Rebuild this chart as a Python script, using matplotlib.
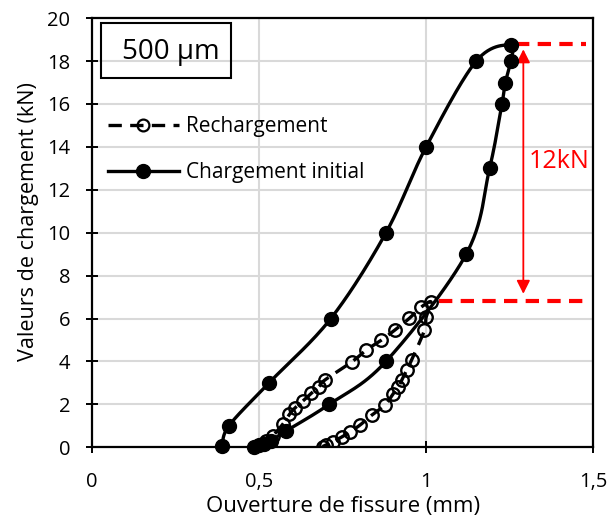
import numpy as np
import matplotlib
matplotlib.use("Agg")
import matplotlib.pyplot as plt
from matplotlib.patches import Rectangle
from matplotlib.ticker import FuncFormatter

plt.rcParams['font.family'] = ['Open Sans', 'DejaVu Sans']

# ---- data ----
init_x = [0.39, 0.41, 0.53, 0.715, 0.88, 1.0, 1.15, 1.253, 1.253, 1.237, 1.227,
          1.19, 1.12, 0.88, 0.71, 0.58, 0.535, 0.515, 0.50, 0.485]
init_y = [0.05, 1.0, 3.0, 6.0, 10.0, 14.0, 18.0, 18.75, 18.0, 17.0, 16.0,
          13.0, 9.0, 4.0, 2.0, 0.75, 0.3, 0.15, 0.08, 0.03]

rech_x = [0.496, 0.505, 0.521, 0.541, 0.571, 0.591, 0.609, 0.631, 0.656, 0.679,
          0.696, 0.779, 0.819, 0.866, 0.908, 0.950, 0.986, 1.015, 1.000, 0.995,
          0.957, 0.942, 0.927, 0.917, 0.902, 0.877, 0.837, 0.802, 0.772, 0.748,
          0.720, 0.700, 0.690]
rech_y = [0.02, 0.12, 0.29, 0.53, 1.07, 1.53, 1.85, 2.15, 2.51, 2.82,
          3.12, 3.99, 4.51, 4.99, 5.48, 6.01, 6.54, 6.77, 6.05, 5.45,
          4.08, 3.6, 3.12, 2.81, 2.5, 1.97, 1.49, 1.03, 0.71, 0.48,
          0.25, 0.1, 0.03]

x_ticks = [0, 0.5, 1.0, 1.5]
y_ticks = list(range(0, 21, 2))

peak_load = 18.8
reload_load = 6.8
delta_label = "12kN"
sample_label = "500 µm"


def smooth(x, y, n=24):
    P = np.column_stack([x, y]).astype(float)
    P = np.vstack([P[0], P, P[-1]])
    out = []
    t = np.linspace(0, 1, n)[:, None]
    for i in range(1, len(P) - 2):
        p0, p1, p2, p3 = P[i - 1], P[i], P[i + 1], P[i + 2]
        c1 = p1 + (p2 - p0) / 6.0
        c2 = p2 - (p3 - p1) / 6.0
        seg = ((1 - t) ** 3) * p1 + 3 * ((1 - t) ** 2) * t * c1 + 3 * (1 - t) * t ** 2 * c2 + t ** 3 * p2
        out.append(seg if i == 1 else seg[1:])
    S = np.vstack(out)
    return S[:, 0], S[:, 1]


fig = plt.figure(figsize=(6.09, 5.20), dpi=100)
ax = fig.add_axes([0.151, 0.140, 0.823, 0.825])

ax.set_xlim(0, 1.5)
ax.set_ylim(0, 20)
ax.set_xticks(x_ticks)
ax.set_yticks(y_ticks)
ax.xaxis.set_major_formatter(FuncFormatter(lambda v, p: ('%g' % v).replace('.', ',')))
ax.grid(True, color='#d9d9d9', linewidth=1.5)
ax.set_axisbelow(True)
for s in ax.spines.values():
    s.set_linewidth(1.6)
    s.set_color('black')
ax.tick_params(direction='inout', length=9, width=1.4, labelsize=14.5, colors='black')
ax.tick_params(axis='y', pad=11)
ax.tick_params(axis='x', pad=13)

# Rechargement (dashed, open circles)
sx, sy = smooth(rech_x, rech_y, 8)
ax.plot(sx, sy, color='black', lw=2.4, dashes=(4, 2.5), zorder=3)
ax.plot(rech_x, rech_y, linestyle='none', marker='o', ms=9, mfc='none',
        mec='black', mew=1.7, zorder=4)

# Chargement initial (solid, filled)
sx, sy = smooth(init_x, init_y, 30)
ax.plot(sx, sy, color='black', lw=2.4, zorder=3)
ax.plot(init_x, init_y, linestyle='none', marker='o', ms=10, color='black', zorder=5,
        clip_on=False)

# legend proxies
h1, = ax.plot([], [], color='black', lw=2.4, dashes=(4, 2.5), marker='o', ms=8.5,
              mfc='none', mec='black', mew=1.6)
h2, = ax.plot([], [], color='black', lw=2.4, marker='o', ms=10)
ax.legend([h1, h2], ['Rechargement', 'Chargement initial'], loc='upper left',
          bbox_to_anchor=(0.032, 0.772), frameon=False, borderpad=0, borderaxespad=0,
          handlelength=3.4, handletextpad=0.35, labelspacing=1.2, fontsize=15)

# red annotation
ax.plot([1.27, 1.48], [peak_load, peak_load], color='#ff0000', lw=3, dashes=(3.2, 2))
ax.plot([1.04, 1.48], [reload_load, reload_load], color='#ff0000', lw=3, dashes=(3.2, 2))
ax.annotate('', xy=(1.291, peak_load - 0.25), xytext=(1.291, reload_load + 0.35),
            arrowprops=dict(arrowstyle='<|-|>', color='#ff0000', lw=1.3,
                            mutation_scale=20, shrinkA=0, shrinkB=0))
ax.text(1.397, 13.3, delta_label, color='#ff0000', fontsize=18, ha='center', va='center')

# sample box
ax.add_patch(Rectangle((0.018, 0.861), 0.259, 0.128, transform=ax.transAxes,
                       fill=False, edgecolor='black', lw=1.5, zorder=6))
ax.text(0.158, 0.921, sample_label, transform=ax.transAxes, fontsize=20,
        ha='center', va='center', zorder=6)

ax.set_xlabel('Ouverture de fissure (mm)', fontsize=16, labelpad=3)
ax.set_ylabel('Valeurs de chargement (kN)', fontsize=15.5, labelpad=6)
ax.yaxis.set_label_coords(-0.105, 0.525)

fig.savefig('out.png', dpi=100)
